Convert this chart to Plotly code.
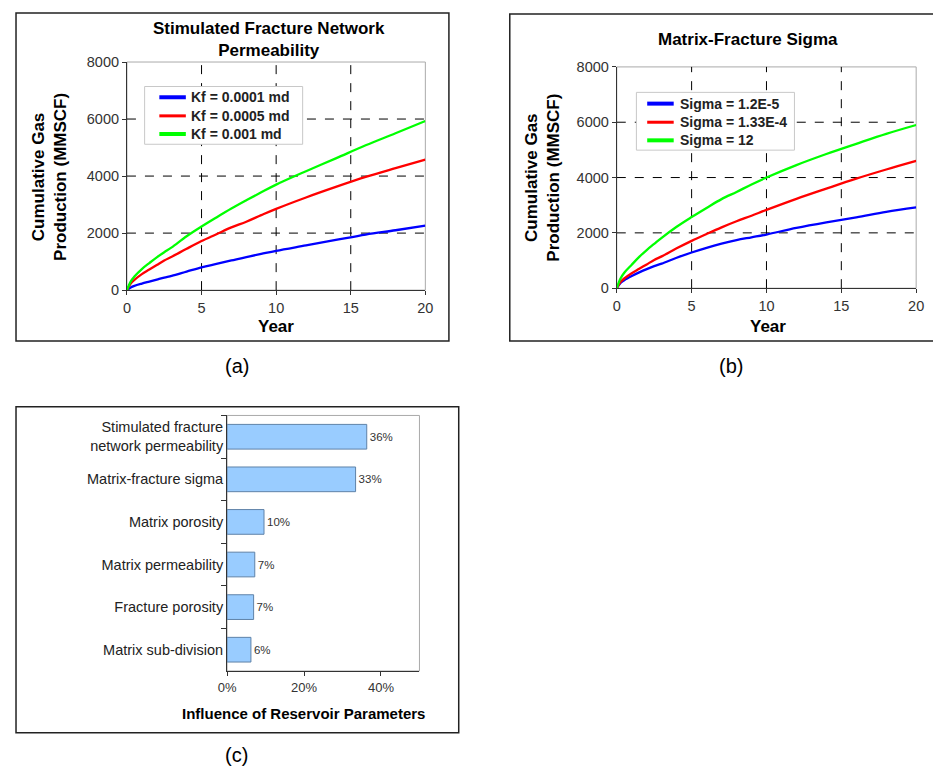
import plotly.graph_objects as go

# ---------------- data ----------------
years = [0, 0.25, 0.5, 1, 1.5, 2, 2.5, 3, 4, 5, 6, 7, 8, 9, 10, 12, 14, 16, 18, 20]

# (a) Stimulated fracture network permeability
a_kf_0001 = [0, 90, 150, 230, 300, 370, 440, 500, 650, 800, 920, 1040, 1160, 1270, 1380, 1570, 1760, 1950, 2100, 2260]
a_kf_0005 = [0, 230, 360, 560, 720, 880, 1040, 1170, 1450, 1720, 1960, 2200, 2400, 2630, 2850, 3250, 3620, 3970, 4280, 4580]
a_kf_001 = [0, 300, 480, 740, 950, 1150, 1330, 1500, 1890, 2230, 2550, 2860, 3150, 3430, 3700, 4170, 4620, 5080, 5500, 5930]
a_names = ["Kf = 0.0001 md", "Kf = 0.0005 md", "Kf = 0.001 md"]

# (b) Matrix-fracture sigma
b_sig_1 = [0, 190, 290, 440, 570, 690, 800, 890, 1100, 1290, 1460, 1610, 1740, 1840, 1940, 2180, 2380, 2560, 2760, 2920]
b_sig_2 = [0, 220, 350, 540, 700, 860, 1020, 1150, 1440, 1710, 1960, 2200, 2420, 2620, 2830, 3230, 3600, 3960, 4290, 4600]
b_sig_3 = [0, 350, 560, 850, 1130, 1380, 1600, 1820, 2220, 2570, 2900, 3220, 3480, 3750, 4000, 4450, 4850, 5220, 5580, 5900]
b_names = ["Sigma = 1.2E-5", "Sigma = 1.33E-4", "Sigma = 12"]

# (c) Influence of reservoir parameters (%)
c_params = ["Stimulated fracture<br>network permeability", "Matrix-fracture sigma", "Matrix porosity",
            "Matrix permeability", "Fracture porosity", "Matrix sub-division"]
c_influence = [36.3, 33.4, 9.6, 7.2, 6.9, 6.2]
c_tickvals = [0, 20, 40]
c_ticktext = ["0%", "20%", "40%"]

year_ticks = [0, 5, 10, 15, 20]
prod_ticks = [0, 2000, 4000, 6000, 8000]

line_colors = ["#0000FF", "#FF0000", "#00FF00"]
legend_widths = [4, 3, 4]

# ---------------- figure ----------------
# page body has an 8px margin: draw a figure that fits the 941x780 window
OX, OY = 8, 8
W, H = 941 - 2 * OX, 780 - 2 * OY
FONT = "Liberation Sans, Arial, sans-serif"


def fx(x):
    return (x - OX) / W


def fy(y):
    return 1 - (y - OY) / H


fig = go.Figure()

for ys, name, col in zip([a_kf_0001, a_kf_0005, a_kf_001], a_names, line_colors):
    fig.add_trace(go.Scatter(x=years, y=ys, name=name, mode="lines",
                             line=dict(color=col, width=2.3, shape="spline"),
                             xaxis="x", yaxis="y", showlegend=False))

for ys, name, col in zip([b_sig_1, b_sig_2, b_sig_3], b_names, line_colors):
    fig.add_trace(go.Scatter(x=years, y=ys, name=name, mode="lines",
                             line=dict(color=col, width=2.3, shape="spline"),
                             xaxis="x2", yaxis="y2", showlegend=False))

fig.add_trace(go.Bar(x=c_influence, y=c_params, orientation="h", width=0.58,
                     marker=dict(color="#99CCFF", line=dict(color="#5F82A8", width=1)),
                     texttemplate="%{x:.0f}%", textposition="outside",
                     textfont=dict(size=11.5, color="#333333", family=FONT),
                     cliponaxis=False, showlegend=False, xaxis="x3", yaxis="y3"))

axcommon = dict(showline=True, linecolor="#333333", linewidth=1, ticks="outside", ticklen=4,
                tickcolor="#333333", showgrid=False, zeroline=False,
                tickfont=dict(size=14.5, color="#333333", family=FONT))

fig.update_layout(
    width=W, height=H, margin=dict(l=0, r=0, t=0, b=0),
    paper_bgcolor="white", plot_bgcolor="white",
    font=dict(family=FONT, color="black"),
    showlegend=False,
    xaxis=dict(domain=[fx(120), fx(424)], range=[0, 20], tickvals=year_ticks, anchor="y", **axcommon),
    yaxis=dict(domain=[fy(288), fy(55)], range=[0, 8000], tickvals=prod_ticks, anchor="x", **axcommon),
    xaxis2=dict(domain=[fx(619), fx(924)], range=[0, 20], tickvals=year_ticks, anchor="y2", **axcommon),
    yaxis2=dict(domain=[fy(286), fy(60)], range=[0, 8000], tickvals=prod_ticks, anchor="x2", **axcommon),
    xaxis3=dict(domain=[fx(222), fx(418)], range=[0, 50], tickvals=c_tickvals, ticktext=c_ticktext, anchor="y3",
                **{**axcommon, "tickfont": dict(size=13, color="#333333", family=FONT)}),
    yaxis3=dict(domain=[fy(677), fy(416)], autorange="reversed", anchor="x3", tickson="boundaries",
                **{**axcommon, "ticklen": 5, "tickfont": dict(size=14.5, color="#222222", family=FONT)}),
)

shapes = []
ann = []
# panel borders
for (x0, y0, x1, y1) in [(7, 5, 448, 340), (510, 6, 945, 340), (7, 407, 458, 740)]:
    shapes.append(dict(type="rect", xref="paper", yref="paper", x0=fx(x0), x1=fx(x1), y0=fy(y1), y1=fy(y0),
                       line=dict(color="#222222", width=1.5), fillcolor="rgba(0,0,0,0)", layer="below"))
# plot-area top/right gray borders
for xa, ya in [("x", "y"), ("x2", "y2"), ("x3", "y3")]:
    shapes.append(dict(type="rect", xref=f"{xa} domain", yref=f"{ya} domain", x0=0, x1=1, y0=0, y1=1,
                       line=dict(color="#AAAAAA", width=1), layer="below"))
# dashed gridlines
for xa, ya in [("x", "y"), ("x2", "y2")]:
    for v in year_ticks[1:-1]:
        shapes.append(dict(type="line", xref=xa, yref=f"{ya} domain", x0=v, x1=v, y0=0, y1=1,
                           line=dict(color="black", width=1, dash="dash"), layer="below"))
    for v in prod_ticks[1:-1]:
        shapes.append(dict(type="line", xref=f"{xa} domain", yref=ya, x0=0, x1=1, y0=v, y1=v,
                           line=dict(color="black", width=1, dash="dash"), layer="below"))

# legends (box, sample lines, labels)
legend_font = dict(family=FONT, size=14, color="#222222", weight="bold")
for names, (bx0, by0, bx1, by1), rows, (lx0, lx1, tx) in [
        (a_names, (138, 80, 299, 139), [91, 110, 128.5], (153, 180, 183)),
        (b_names, (639, 86, 800, 145), [97.5, 116.5, 135], (650, 677, 681))]:
    shapes.append(dict(type="rect", xref="paper", yref="paper", x0=fx(bx0), x1=fx(bx1), y0=fy(by1), y1=fy(by0),
                       line=dict(color="#C8C8C8", width=1), fillcolor="white", layer="above"))
    for name, ry, col, lw in zip(names, rows, line_colors, legend_widths):
        shapes.append(dict(type="line", xref="paper", yref="paper", x0=fx(lx0), x1=fx(lx1), y0=fy(ry), y1=fy(ry),
                           line=dict(color=col, width=lw), layer="above"))
        ann.append(dict(text=name, x=fx(tx), y=fy(ry), xanchor="left", font=legend_font))
fig.update_layout(shapes=shapes)

bold = dict(family=FONT, size=17, color="black", weight="bold")
ann.append(dict(text="Stimulated Fracture Network<br>Permeability", x=fx(265), y=fy(32), font=bold))
ann.append(dict(text="Matrix-Fracture Sigma", x=fx(753), y=fy(32), font=bold))
ann.append(dict(text="Cumulative Gas<br>Production (MMSCF)", x=fx(41), y=fy(172), textangle=-90, font=bold))
ann.append(dict(text="Cumulative Gas<br>Production (MMSCF)", x=fx(543), y=fy(173), textangle=-90, font=bold))
ann.append(dict(text="Year", x=fx(272), y=fy(325), font=bold))
ann.append(dict(text="Year", x=fx(773), y=fy(325), font=bold))
ann.append(dict(text="Influence of Reservoir Parameters", x=fx(300), y=fy(720),
                font=dict(family=FONT, size=15, color="black", weight="bold")))
for lbl, x, y in [("(a)", 232, 365), ("(b)", 735, 365), ("(c)", 232, 763)]:
    ann.append(dict(text=lbl, x=fx(x), y=fy(y), font=dict(family=FONT, size=20, color="black")))
for a in ann:
    a.setdefault("xanchor", "center")
    a.update(xref="paper", yref="paper", showarrow=False, yanchor="middle")
fig.update_layout(annotations=ann)

fig.write_html("out.html")
